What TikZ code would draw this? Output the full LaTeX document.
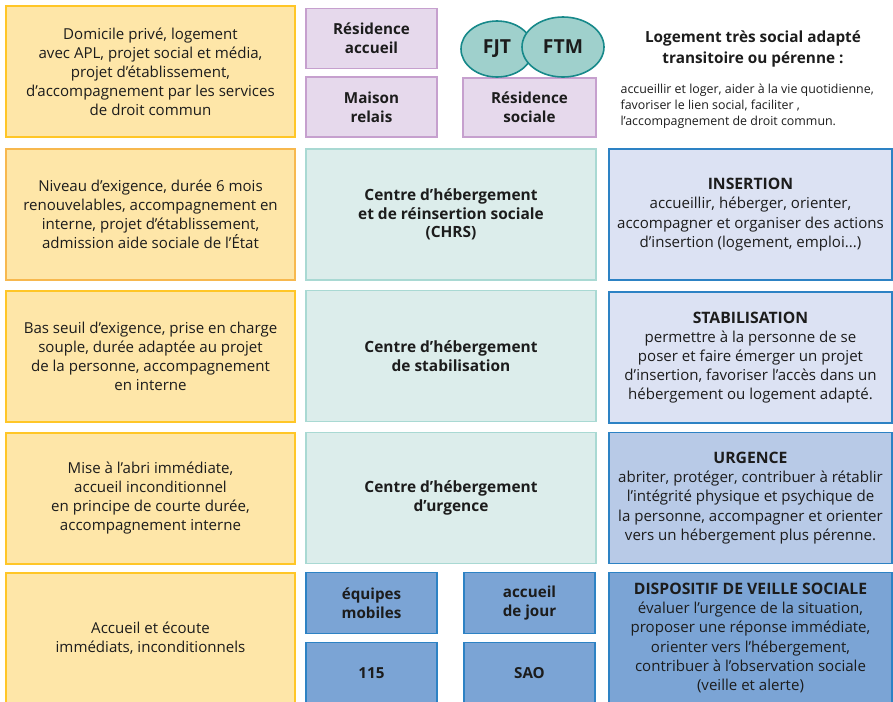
\documentclass[tikz,border=0pt]{standalone}
\usepackage{fontspec}
\setmainfont{Open Sans}
\usepackage{tikz}
\usetikzlibrary{shapes.geometric}

\definecolor{jaune}{HTML}{FEE6A8}
\definecolor{jauneb}{HTML}{FFC627}
\definecolor{orangeb}{HTML}{F7B84E}
\definecolor{mauve}{HTML}{E6D9EC}
\definecolor{mauveb}{HTML}{C6A0CE}
\definecolor{vert}{HTML}{DCEDEB}
\definecolor{vertb}{HTML}{A9D9D3}
\definecolor{ovale}{HTML}{9FD0CC}
\definecolor{ovaleb}{HTML}{17898A}
\definecolor{bleuA}{HTML}{DCE2F3}
\definecolor{bleuB}{HTML}{B8CAE7}
\definecolor{bleuC}{HTML}{7BA4D5}
\definecolor{bleub}{HTML}{2D82C4}
\definecolor{texte}{HTML}{1C1C1C}

\newcommand{\titremission}[1]{{\fontsize{11.8}{14.4}\selectfont\bfseries #1}}

\begin{document}
\begin{tikzpicture}[x=0.75pt, y=-0.75pt,
    every node/.style={text=texte, inner sep=1pt},
    descr/.style={rectangle, draw=jauneb, line width=1.5pt, fill=jaune, minimum width=216.75pt, minimum height=98.25pt, align=center, font=\fontsize{11.3}{14.3}\selectfont},
    mini/.style={rectangle, draw=mauveb, line width=1.2pt, fill=mauve, minimum width=98.25pt, minimum height=45pt, align=center, font=\fontsize{11.4}{14}\selectfont\bfseries},
    centre/.style={rectangle, draw=vertb, line width=1.2pt, fill=vert, minimum width=217.5pt, minimum height=98.25pt, align=center, font=\fontsize{11.6}{14}\selectfont\bfseries},
    mission/.style={rectangle, draw=bleub, line width=1.2pt, minimum width=212.25pt, minimum height=98.25pt, align=center, font=\fontsize{11.3}{14.4}\selectfont},
    veille/.style={rectangle, draw=bleub, line width=1.2pt, fill=bleuC, minimum width=98.25pt, minimum height=45.5pt, align=center, font=\fontsize{11.4}{14}\selectfont\bfseries},
    foyer/.style={ellipse, draw=ovaleb, line width=1.2pt, fill=ovale, font=\fontsize{14.5}{16}\selectfont\bfseries}
]
\useasboundingbox (0,0) rectangle (893,701);

% colonne de gauche
\node[descr] (d1) at (150.5,71.5) {Domicile privé, logement\\avec APL, projet social et média,\\projet d’établissement,\\d'accompagnement par les services\\de droit commun};
\node[descr, draw=orangeb] (d2) at (150.5,214.5) {Niveau d’exigence, durée 6 mois\\renouvelables, accompagnement en\\interne, projet d’établissement,\\admission aide sociale de l'État};
\node[descr] (d3) at (150.5,356) {Bas seuil d’exigence, prise en charge\\souple, durée adaptée au projet\\de la personne, accompagnement\\en interne};
\node[descr] (d4) at (150.5,498) {Mise à l’abri immédiate,\\accueil inconditionnel\\en principe de courte durée,\\accompagnement interne};
\node[descr] (d5) at (150.5,638) {Accueil et écoute\\immédiats, inconditionnels};

% logement adapte
\node[mini] (ra) at (371.5,38.5) {Résidence\\accueil};
\node[mini] (mr) at (371.5,107) {Maison\\relais};
\node[mini, minimum width=99.75pt, minimum height=44.25pt] (rs) at (529.5,107.5) {Résidence\\sociale};
\node[foyer, minimum width=54pt, minimum height=42pt] (fjt) at (497,49) {FJT};
\node[foyer, minimum width=61.5pt, minimum height=45pt] (ftm) at (563,47) {FTM};

% centres d'hebergement
\node[centre] (chrs) at (451,214.5) {Centre d’hébergement\\et de réinsertion sociale\\(CHRS)};
\node[centre] (chs) at (451,356) {Centre d’hébergement\\de stabilisation};
\node[centre] (chu) at (451,498) {Centre d’hébergement\\d’urgence};

% veille sociale
\node[veille] (em) at (371.5,603) {équipes\\mobiles};
\node[veille] (aj) at (529.5,603) {accueil\\de jour};
\node[veille] (n115) at (371.5,673) {115};
\node[veille] (sao) at (529.5,673) {SAO};

% colonne de droite
\node[font=\fontsize{11.5}{15.5}\selectfont\bfseries, align=center] (titre) at (753,49) {Logement très social adapté\\transitoire ou pérenne :};
\node[anchor=west, align=left, font=\fontsize{9.3}{12}\selectfont] (role) at (619,106) {accueillir et loger, aider à la vie quotidienne,\\favoriser le lien social, faciliter ,\\l’accompagnement de droit commun.};
\node[mission, fill=bleuA] (ins) at (750.5,214.5) {\titremission{INSERTION}\\accueillir, héberger, orienter,\\accompagner et organiser des actions\\d’insertion (logement, emploi...)};
\node[mission, fill=bleuA] (stab) at (750.5,357.5) {\titremission{STABILISATION}\\permettre à la personne de se\\poser et faire émerger un projet\\d’insertion, favoriser l’accès dans un\\hébergement ou logement adapté.};
\node[mission, fill=bleuB] (urg) at (750.5,498) {\titremission{URGENCE}\\abriter, protéger, contribuer à rétablir\\l’intégrité physique et psychique de\\la personne, accompagner et orienter\\vers un hébergement plus pérenne.};
\node[mission, fill=bleuC] (dvs) at (750.5,638) {\titremission{DISPOSITIF DE VEILLE SOCIALE}\\évaluer l’urgence de la situation,\\proposer une réponse immédiate,\\orienter vers l’hébergement,\\contribuer à l’observation sociale\\(veille et alerte)};
\end{tikzpicture}
\end{document}
